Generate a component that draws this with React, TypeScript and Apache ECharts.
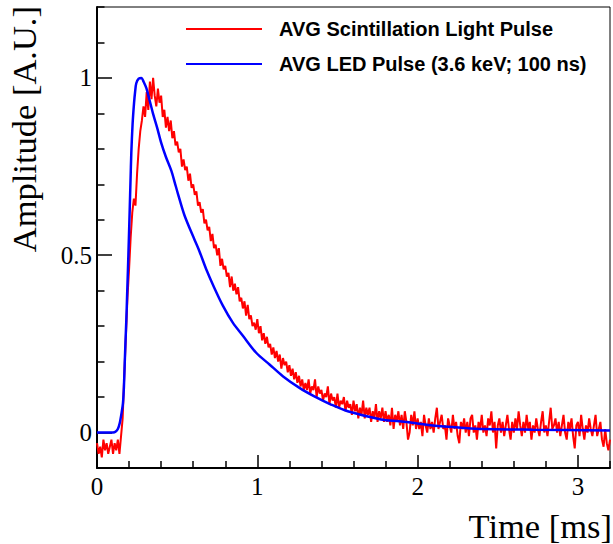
import React, { useEffect, useRef } from "react";
import * as echarts from "echarts";

// ---- data ----
const TIME_STEP = 0.01; // ms between samples of the scintillation pulse
const redValues = [
  -0.03, -0.06, -0.04, -0.07, -0.02, -0.05, -0.03, -0.06, -0.04, -0.02,
  -0.06, -0.03, -0.05, -0.02, -0.06, -0.01, 0.04, 0.16, 0.27, 0.38,
  0.46, 0.55, 0.62, 0.66, 0.64, 0.73, 0.8, 0.85, 0.88, 0.92,
  0.89, 0.96, 0.91, 0.99, 0.94, 1.0, 0.95, 0.92, 0.97, 0.93,
  0.95, 0.89, 0.91, 0.86, 0.89, 0.85, 0.88, 0.83, 0.85, 0.81,
  0.82, 0.79, 0.8, 0.75, 0.77, 0.74, 0.75, 0.71, 0.73, 0.69,
  0.7, 0.67, 0.68, 0.64, 0.65, 0.62, 0.63, 0.59, 0.6, 0.57,
  0.58, 0.54, 0.56, 0.52, 0.53, 0.5, 0.52, 0.47, 0.49, 0.46,
  0.47, 0.44, 0.45, 0.41, 0.44, 0.4, 0.42, 0.39, 0.41, 0.37,
  0.38, 0.35, 0.37, 0.33, 0.36, 0.32, 0.33, 0.3, 0.31, 0.29,
  0.32, 0.28, 0.3, 0.26, 0.28, 0.25, 0.27, 0.24, 0.25, 0.22,
  0.24, 0.21, 0.23, 0.2, 0.22, 0.18, 0.21, 0.19, 0.2, 0.17,
  0.19, 0.16, 0.18, 0.15, 0.17, 0.14, 0.16, 0.13, 0.15, 0.12,
  0.14, 0.12, 0.15, 0.11, 0.13, 0.12, 0.15, 0.1, 0.13, 0.11,
  0.12, 0.09, 0.11, 0.1, 0.13, 0.08, 0.11, 0.09, 0.1, 0.07,
  0.11, 0.07, 0.09, 0.08, 0.1, 0.06, 0.09, 0.07, 0.08, 0.05,
  0.09, 0.06, 0.08, 0.04, 0.07, 0.05, 0.09, 0.04, 0.07, 0.05,
  0.07, 0.03, 0.06, 0.04, 0.08, 0.03, 0.06, 0.04, 0.07, 0.03,
  0.06, 0.03, 0.05, 0.02, 0.07, 0.01, 0.05, 0.03, 0.06, 0.02,
  0.05, 0.01, 0.06, 0.03, -0.02, 0.0, 0.05, 0.02, 0.06, 0.01,
  0.04, 0.01, 0.03, -0.01, 0.05, 0.02, 0.0, 0.04, 0.01, 0.03,
  0.0, 0.04, 0.07, 0.01, 0.03, 0.05, 0.01, 0.02, -0.02, 0.04,
  0.02, 0.0, 0.05, 0.01, 0.03, -0.01, -0.03, 0.03, 0.01, 0.04,
  0.0, 0.03, -0.01, 0.04, 0.05, 0.0, 0.02, -0.02, 0.03, 0.01,
  0.05, 0.0, 0.02, -0.01, 0.04, 0.02, 0.06, 0.0, 0.03, -0.045,
  0.02, 0.04, 0.0, 0.03, -0.01, 0.02, 0.05, 0.01, -0.02, 0.03,
  0.0, 0.04, 0.01, 0.06, 0.02, -0.01, 0.03, 0.0, 0.05, 0.01,
  0.03, -0.02, 0.02, 0.0, 0.04, 0.01, -0.01, 0.03, 0.06, 0.0,
  0.02, -0.01, 0.03, 0.07, 0.01, 0.02, 0.04, 0.0, 0.03, -0.01,
  0.02, 0.05, 0.0, -0.02, 0.03, 0.01, 0.04, -0.01, -0.045, 0.02,
  0.03, -0.01, 0.05, 0.01, -0.02, 0.02, 0.0, 0.04, 0.01, -0.01,
  0.02, 0.05, -0.01, 0.01, 0.03, -0.02, -0.04, 0.01, -0.03, -0.05,
  -0.02,
];

const blueTimes = [
  0, 0.05, 0.1, 0.115, 0.13, 0.142, 0.155, 0.162, 0.168, 0.173, 0.178, 0.183,
  0.188, 0.193, 0.199, 0.204, 0.209, 0.214, 0.222, 0.231, 0.238, 0.245, 0.26,
  0.277, 0.29, 0.308, 0.328, 0.349, 0.375, 0.401, 0.43, 0.464, 0.485, 0.505,
  0.546, 0.609, 0.64, 0.68, 0.73, 0.785, 0.847, 0.91, 0.993, 1.076, 1.159,
  1.263, 1.356, 1.46, 1.564, 1.772, 1.886, 1.98, 2.094, 2.291, 2.405, 2.717, 3.2,
];
const blueValues = [
  0.0, 0.0, 0.0, 0.002, 0.01, 0.027, 0.06, 0.083, 0.13, 0.196, 0.26, 0.318,
  0.39, 0.459, 0.55, 0.628, 0.71, 0.788, 0.87, 0.929, 0.962, 0.985, 0.998,
  1.0, 0.99, 0.971, 0.937, 0.9, 0.86, 0.816, 0.777, 0.738, 0.705, 0.673,
  0.612, 0.543, 0.51, 0.462, 0.41, 0.358, 0.31, 0.273, 0.225, 0.192, 0.159,
  0.126, 0.102, 0.079, 0.06, 0.037, 0.032, 0.027, 0.02, 0.013, 0.01, 0.008, 0.006,
];

const seriesNames = ["AVG Scintillation Light Pulse", "AVG LED Pulse (3.6 keV; 100 ns)"];
const xMajorTicks = [0, 1, 2, 3];
const xMinorTicks = [0.2, 0.4, 0.6, 0.8, 1.2, 1.4, 1.6, 1.8, 2.2, 2.4, 2.6, 2.8, 3.2];
const yMajorTicks = [0, 0.5, 1];
const yMinorTicks = [-0.1, 0.1, 0.2, 0.3, 0.4, 0.6, 0.7, 0.8, 0.9, 1.1, 1.2];
const xTitle = "Time [ms]";
const yTitle = "Amplitude [A.U.]";

const X_MIN = 0;
const X_MAX = 3.2;
const Y_MIN = -0.1;
const Y_MAX = 1.2;

export default function App() {
  const ref = useRef<HTMLDivElement>(null);

  useEffect(() => {
    if (!ref.current) return;
    const chart = echarts.init(ref.current, undefined, { renderer: "svg" });
    const serif = "Liberation Serif";
    const redData = redValues.map((v, i) => [+(i * TIME_STEP).toFixed(4), v]);
    const blueData = blueTimes.map((t, i) => [t, blueValues[i]]);

    const tickStyle = { color: "#000", width: 1.5 };

    const option: any = {
      animation: false,
      grid: {
        left: 97,
        right: 3,
        top: 7,
        bottom: 76,
        show: true,
        borderColor: "#000",
        borderWidth: 1,
        backgroundColor: "transparent",
      },
      legend: {
        orient: "vertical",
        left: 185,
        top: 19,
        padding: 0,
        itemWidth: 76,
        itemHeight: 20,
        itemGap: 15,
        data: seriesNames,
        itemStyle: { opacity: 0 },
        textStyle: {
          fontFamily: "Liberation Sans",
          fontWeight: "bold",
          fontSize: 20,
          color: "#000",
          padding: [0, 0, 0, 12],
        },
      },
      xAxis: [
        {
          type: "value",
          min: X_MIN,
          max: X_MAX,
          position: "bottom",
          axisLine: { show: true, onZero: false, lineStyle: { color: "#000", width: 2 } },
          axisTick: { show: true, inside: true, length: 13, customValues: xMajorTicks, lineStyle: tickStyle },
          axisLabel: {
            show: true,
            customValues: xMajorTicks,
            margin: 6,
            fontFamily: serif,
            fontSize: 25,
            color: "#000",
          },
          splitLine: { show: false },
        },
        {
          type: "value",
          min: X_MIN,
          max: X_MAX,
          position: "bottom",
          axisLine: { show: false, onZero: false },
          axisTick: { show: true, inside: true, length: 7, customValues: xMinorTicks, lineStyle: tickStyle },
          axisLabel: { show: false },
          splitLine: { show: false },
        },
      ],
      yAxis: [
        {
          type: "value",
          min: Y_MIN,
          max: Y_MAX,
          position: "left",
          axisLine: { show: true, onZero: false, lineStyle: { color: "#000", width: 2 } },
          axisTick: { show: true, inside: true, length: 15, customValues: yMajorTicks, lineStyle: tickStyle },
          axisLabel: {
            show: true,
            customValues: yMajorTicks,
            margin: 5,
            fontFamily: serif,
            fontSize: 25,
            color: "#000",
          },
          splitLine: { show: false },
        },
        {
          type: "value",
          min: Y_MIN,
          max: Y_MAX,
          position: "left",
          axisLine: { show: false, onZero: false },
          axisTick: { show: true, inside: true, length: 7.5, customValues: yMinorTicks, lineStyle: tickStyle },
          axisLabel: { show: false },
          splitLine: { show: false },
        },
      ],
      series: [
        {
          name: seriesNames[0],
          type: "line",
          xAxisIndex: 0,
          yAxisIndex: 0,
          data: redData,
          symbol: "none",
          showSymbol: false,
          lineStyle: { color: "#ff0000", width: 2 },
          itemStyle: { color: "#ff0000" },
          z: 2,
        },
        {
          name: seriesNames[1],
          type: "line",
          xAxisIndex: 0,
          yAxisIndex: 0,
          data: blueData,
          symbol: "none",
          showSymbol: false,
          smooth: 0.3,
          lineStyle: { color: "#0000ff", width: 2.5 },
          itemStyle: { color: "#0000ff" },
          z: 3,
        },
      ],
      graphic: [
        {
          type: "text",
          x: 24,
          y: 6,
          rotation: Math.PI / 2,
          style: {
            text: yTitle,
            fontFamily: serif,
            fontSize: 34.5,
            fill: "#000",
            textAlign: "right",
            align: "right",
            textVerticalAlign: "middle",
            verticalAlign: "middle",
          },
        },
        {
          type: "text",
          x: 612,
          y: 526,
          style: {
            text: xTitle,
            fontFamily: serif,
            fontSize: 34.5,
            fill: "#000",
            textAlign: "right",
            align: "right",
            textVerticalAlign: "middle",
            verticalAlign: "middle",
          },
        },
      ],
    };

    chart.setOption(option);
    return () => chart.dispose();
  }, []);

  return (
    <div
      ref={ref}
      style={{ position: "absolute", left: 0, top: 0, width: 613, height: 544, background: "#fff" }}
    />
  );
}
